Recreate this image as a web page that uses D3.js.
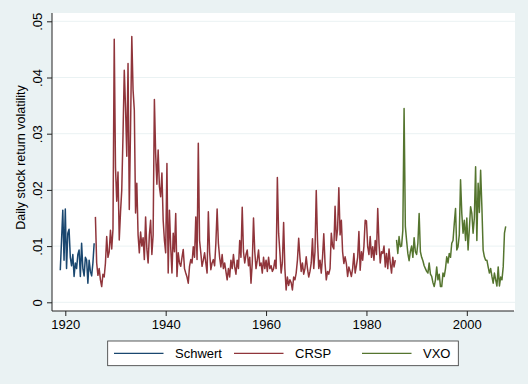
<!DOCTYPE html>
<html><head><meta charset="utf-8">
<script src="https://cdn.jsdelivr.net/npm/d3@7"></script>
<style>
html,body{margin:0;padding:0;background:#eaf2f3;}
svg{display:block;font-family:"Liberation Sans",Arial,sans-serif;}
</style>
</head><body>
<svg id="chart" width="528" height="384"></svg>
<script>
// ---- data (quarterly observations) ----
const seriesNames = ["Schwert", "CRSP", "VXO"];
const schwertStart = 1919.0;
const crspStart = 1926.0;
const vxoStart = 1986.0;
const stepYears = 0.25;

const schwertValues = [
  .0057, .0110, .0164, .0075,
  .0166, .0060, .0123, .0130,
  .0080, .0065, .0085, .0046,
  .0070, .0060, .0085, .0093,
  .0046, .0105, .0060, .0047,
  .0080, .0075, .0034, .0075,
  .0055, .0047, .0070, .0105
];

const crspValues = [
  .0152, .0070, .0048, .0060,  // 1926
  .0040, .0028, .0050, .0045,  // 1927
  .0070, .0117, .0080, .0090,  // 1928
  .0128, .0095, .0130, .0468,  // 1929
  .0240, .0180, .0232, .0111,  // 1930
  .0160, .0200, .0298, .0413,  // 1931
  .0347, .0260, .0425, .0165,  // 1932
  .0310, .0473, .0378, .0342,  // 1933
  .0159, .0212, .0120, .0088,  // 1934
  .0125, .0100, .0115, .0076,  // 1935
  .0152, .0095, .0070, .0120,  // 1936
  .0146, .0085, .0120, .0361,  // 1937
  .0265, .0210, .0271, .0206,  // 1938
  .0188, .0230, .0146, .0110,  // 1939
  .0088, .0247, .0052, .0164,  // 1940
  .0099, .0052, .0123, .0090,  // 1941
  .0158, .0046, .0088, .0070,  // 1942
  .0064, .0080, .0094, .0060,  // 1943
  .0052, .0045, .0034, .0064,  // 1944
  .0076, .0070, .0099, .0080,  // 1945
  .0152, .0076, .0283, .0110,  // 1946
  .0088, .0064, .0075, .0088,  // 1947
  .0070, .0052, .0161, .0090,  // 1948
  .0058, .0070, .0076, .0065,  // 1949
  .0105, .0166, .0105, .0080,  // 1950
  .0063, .0085, .0060, .0070,  // 1951
  .0055, .0040, .0060, .0045,  // 1952
  .0075, .0060, .0085, .0063,  // 1953
  .0050, .0075, .0060, .0110,  // 1954
  .0080, .0169, .0090, .0070,  // 1955
  .0085, .0093, .0065, .0080,  // 1956
  .0034, .0070, .0150, .0090,  // 1957
  .0060, .0075, .0093, .0065,  // 1958
  .0070, .0052, .0080, .0060,  // 1959
  .0075, .0055, .0080, .0060,  // 1960
  .0065, .0055, .0060, .0075,  // 1961
  .0060, .0222, .0123, .0090,  // 1962
  .0052, .0070, .0142, .0060,  // 1963
  .0022, .0045, .0030, .0040,  // 1964
  .0035, .0022, .0045, .0040,  // 1965
  .0052, .0075, .0114, .0080,  // 1966
  .0055, .0070, .0050, .0060,  // 1967
  .0081, .0060, .0045, .0055,  // 1968
  .0070, .0113, .0060, .0090,  // 1969
  .0199, .0110, .0060, .0075,  // 1970
  .0052, .0080, .0122, .0070,  // 1971
  .0040, .0055, .0050, .0060,  // 1972
  .0123, .0100, .0095, .0171,  // 1973
  .0110, .0130, .0204, .0120,  // 1974
  .0146, .0090, .0069, .0081,  // 1975
  .0069, .0046, .0063, .0055,  // 1976
  .0046, .0060, .0087, .0052,  // 1977
  .0065, .0080, .0126, .0057,  // 1978
  .0090, .0075, .0100, .0146,  // 1979
  .0145, .0099, .0085, .0117,  // 1980
  .0080, .0099, .0075, .0110,  // 1981
  .0085, .0167, .0105, .0070,  // 1982
  .0090, .0087, .0100, .0063,  // 1983
  .0087, .0060, .0095, .0070,  // 1984
  .0052, .0080, .0063, .0075   // 1985
];

const vxoValues = [
  .0111, .0087, .0117, .0099,  // 1986
  .0100, .0128, .0345, .0135,  // 1987
  .0110, .0087, .0074, .0090,  // 1988
  .0100, .0080, .0115, .0090,  // 1989
  .0085, .0105, .0158, .0090,  // 1990
  .0080, .0074, .0065, .0060,  // 1991
  .0055, .0052, .0070, .0050,  // 1992
  .0046, .0035, .0028, .0040,  // 1993
  .0063, .0040, .0050, .0028,  // 1994
  .0028, .0052, .0046, .0060,  // 1995
  .0081, .0070, .0087, .0080,  // 1996
  .0105, .0110, .0140, .0167,  // 1997
  .0093, .0099, .0120, .0218,  // 1998
  .0158, .0123, .0146, .0110,  // 1999
  .0150, .0093, .0130, .0170,  // 2000
  .0158, .0123, .0150, .0241,  // 2001
  .0110, .0212, .0160, .0235,  // 2002
  .0170, .0093, .0081, .0075,  // 2003
  .0075, .0063, .0052, .0060,  // 2004
  .0046, .0034, .0052, .0040,  // 2005
  .0029, .0063, .0029, .0045,  // 2006
  .0040, .0063, .0123, .0135   // 2007
];

const xTicks = [1920, 1940, 1960, 1980, 2000];
const yTicks = [0, .01, .02, .03, .04, .05];
const yTickLabels = ["0", ".01", ".02", ".03", ".04", ".05"];
const yTitle = "Daily stock return volatility";

// ---- drawing ----
const svg = d3.select("#chart");
const colors = ["#1a476f", "#90353b", "#55752f"];

const x = d3.scaleLinear().domain([1917.35, 2009.4]).range([52, 514]);
const y = d3.scaleLinear().domain([0, 0.05]).range([302.3, 21.3]);

const plotTop = 13, plotBottom = 311, plotLeft = 52, plotRight = 515;

svg.append("rect").attr("width", 528).attr("height", 384).attr("fill", "#eaf2f3");
svg.append("rect").attr("x", plotLeft).attr("y", plotTop)
  .attr("width", plotRight - plotLeft).attr("height", plotBottom - plotTop)
  .attr("fill", "#ffffff");

// grid
svg.append("g").selectAll("line").data(yTicks).join("line")
  .attr("x1", plotLeft).attr("x2", plotRight)
  .attr("y1", d => y(d)).attr("y2", d => y(d))
  .attr("stroke", "#eaf2f3").attr("stroke-width", 1);

// series
const toPoints = (vals, start) => vals.map((v, i) => ({t: start + i * stepYears, v}));
const series = [
  toPoints(schwertValues, schwertStart),
  toPoints(crspValues, crspStart),
  toPoints(vxoValues, vxoStart)
];
const line = d3.line().x(d => x(d.t)).y(d => y(d.v));
svg.append("g").selectAll("path").data(series).join("path")
  .attr("d", line).attr("fill", "none")
  .attr("stroke", (d, i) => colors[i]).attr("stroke-width", 1.5)
  .attr("stroke-linejoin", "round");

// axes
const axisColor = "#222";
const yAxis = d3.axisLeft(y).tickValues(yTicks).tickSize(5).tickFormat((d, i) => yTickLabels[i]);
const gy = svg.append("g").attr("transform", `translate(${plotLeft},0)`).call(yAxis);
gy.select(".domain").remove();
gy.append("line").attr("x1", 0).attr("x2", 0).attr("y1", plotTop).attr("y2", plotBottom)
  .attr("stroke", axisColor);
gy.selectAll(".tick line").attr("stroke", axisColor);
gy.selectAll(".tick text")
  .attr("x", null).attr("dy", null)
  .attr("font-size", 13).attr("fill", "#000")
  .attr("text-anchor", "middle")
  .attr("transform", "translate(-10.3,0) rotate(-90)");

const xAxis = d3.axisBottom(x).tickValues(xTicks).tickSize(5).tickFormat(d3.format("d"));
const gx = svg.append("g").attr("transform", `translate(0,${plotBottom})`).call(xAxis);
gx.select(".domain").remove();
gx.append("line").attr("x1", plotLeft).attr("x2", 514).attr("y1", 0).attr("y2", 0)
  .attr("stroke", axisColor);
gx.selectAll(".tick line").attr("stroke", axisColor);
gx.selectAll(".tick text").attr("y", 18).attr("dy", null)
  .attr("font-size", 13).attr("fill", "#000");

// y title
svg.append("text").attr("transform", "translate(25,157.5) rotate(-90)")
  .attr("text-anchor", "middle").attr("font-size", 12.5).attr("fill", "#000")
  .text(yTitle);

// legend
const lg = svg.append("g");
lg.append("rect").attr("x", 107.7).attr("y", 341).attr("width", 350.6).attr("height", 24.7)
  .attr("fill", "#fff").attr("stroke", "#333").attr("stroke-width", 0.8);
const legendX = [114, 234, 362];
seriesNames.forEach((name, i) => {
  lg.append("line").attr("x1", legendX[i]).attr("x2", legendX[i] + 49.5)
    .attr("y1", 353.3).attr("y2", 353.3).attr("stroke", colors[i]).attr("stroke-width", 1.3);
  lg.append("text").attr("x", legendX[i] + 61).attr("y", 358)
    .attr("font-size", 13).attr("fill", "#000").text(name);
});
</script>
</body></html>
